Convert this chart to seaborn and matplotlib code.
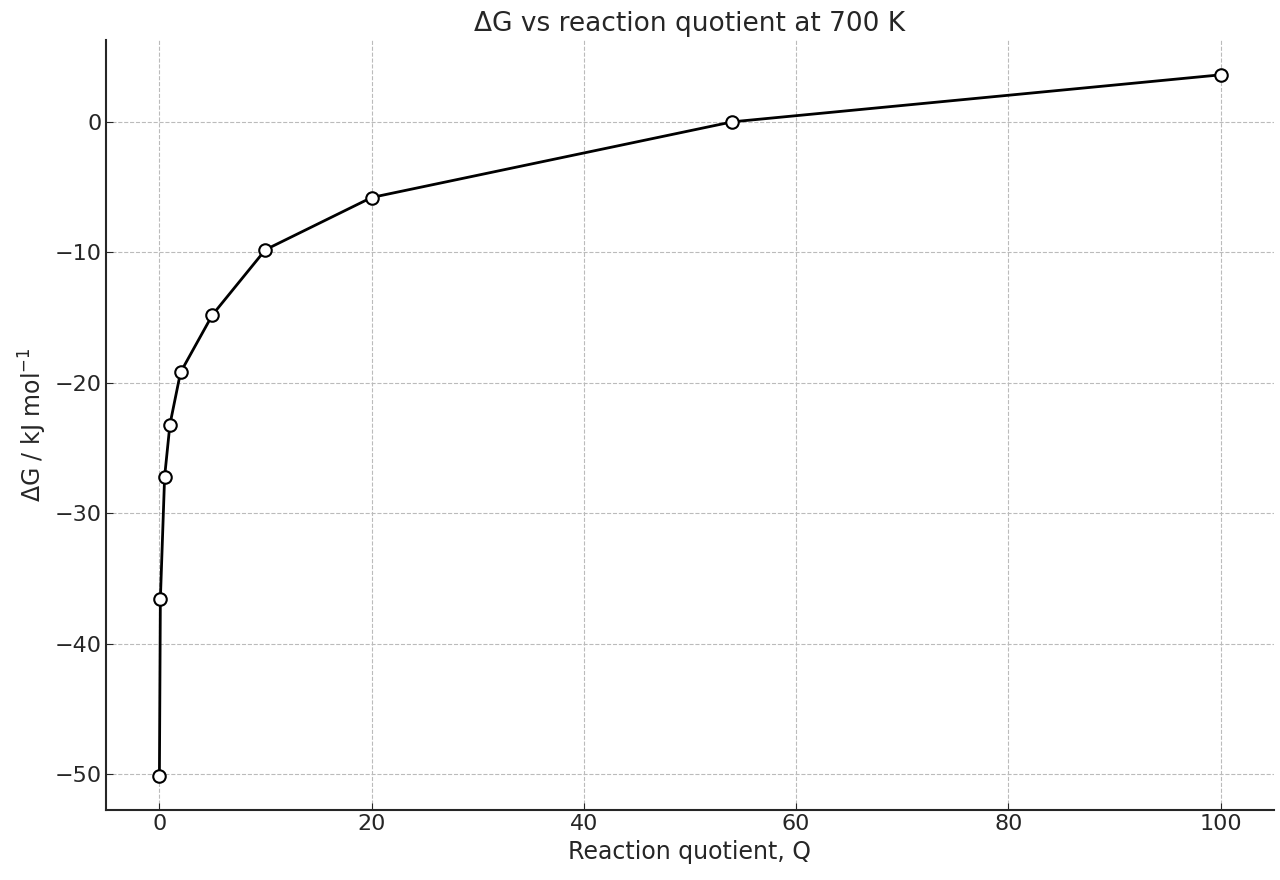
import matplotlib
matplotlib.use("Agg")
import matplotlib.pyplot as plt
import seaborn as sns
import pandas as pd

Q = [0.01, 0.1, 0.5, 1, 2, 5, 10, 20, 54, 100]
dG = [-50.1, -36.6, -27.2, -23.2, -19.2, -14.8, -9.8, -5.8, 0.0, 3.6]

sns.set_style("ticks")
plt.rcParams['font.family'] = ['DejaVu Sans']
df = pd.DataFrame({"Q": Q, "dG": dG})

fig, ax = plt.subplots(figsize=(12.8, 8.8), dpi=100)
sns.lineplot(data=df, x="Q", y="dG", ax=ax, color="black", linewidth=2,
             marker="o", markersize=9, markerfacecolor="white",
             markeredgecolor="black", markeredgewidth=1.5, zorder=3)
ax.grid(True, linestyle="--", color="#bbbbbb", linewidth=0.8)
ax.set_axisbelow(True)
sns.despine(ax=ax)
ax.spines['left'].set_linewidth(1.5)
ax.spines['bottom'].set_linewidth(1.5)
ax.tick_params(direction="in", labelsize=16, length=5)
ax.set_xlim(-5, 105)
ax.set_ylim(-52.7, 6.3)
ax.set_xlabel("Reaction quotient, Q", fontsize=17)
ax.set_ylabel("ΔG / kJ mol$^{-1}$", fontsize=17)
ax.set_title("ΔG vs reaction quotient at 700 K", fontsize=19)
fig.subplots_adjust(left=0.083, right=0.995, top=0.955, bottom=0.08)
fig.savefig("out.png")
